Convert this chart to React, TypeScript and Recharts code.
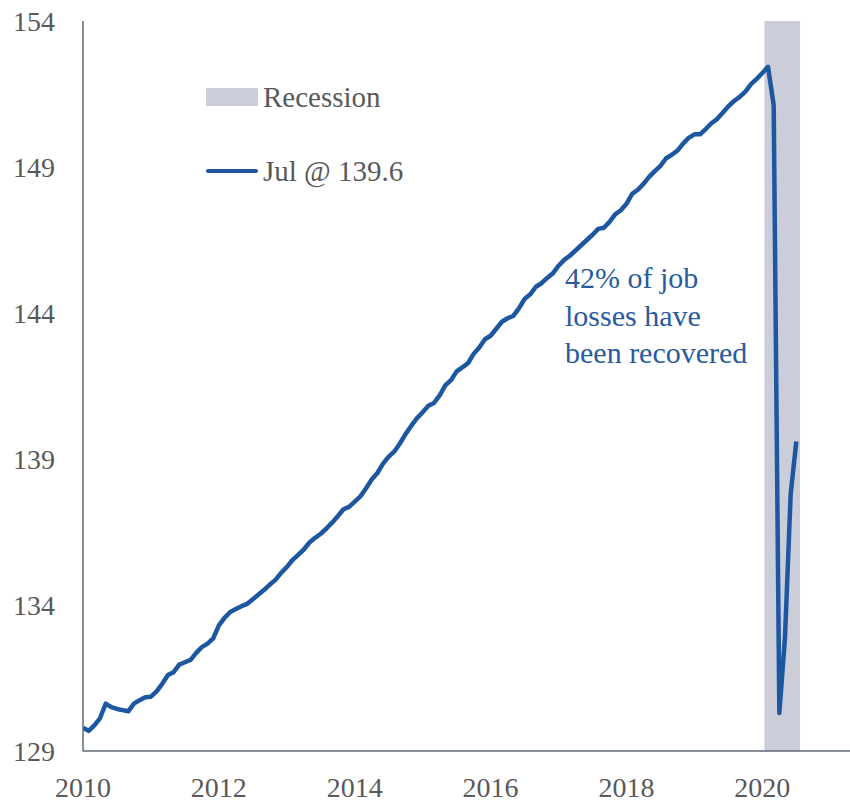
import { LineChart, Line, XAxis, YAxis, ReferenceArea } from 'recharts';

// total nonfarm payrolls, millions, one array per year (Jan..Dec)
const startYear = 2010;
const payrolls2010 = [129.8, 129.69, 129.88, 130.12, 130.62, 130.5, 130.44, 130.4, 130.36, 130.62, 130.74, 130.84];
const payrolls2011 = [130.86, 131.04, 131.3, 131.6, 131.7, 131.96, 132.04, 132.12, 132.36, 132.56, 132.68, 132.86];
const payrolls2012 = [133.3, 133.56, 133.76, 133.86, 133.96, 134.04, 134.2, 134.36, 134.52, 134.7, 134.86, 135.1];
const payrolls2013 = [135.3, 135.54, 135.72, 135.9, 136.14, 136.3, 136.44, 136.62, 136.82, 137.04, 137.28, 137.36];
const payrolls2014 = [137.54, 137.72, 138.0, 138.3, 138.52, 138.84, 139.08, 139.26, 139.54, 139.86, 140.14, 140.4];
const payrolls2015 = [140.6, 140.82, 140.92, 141.18, 141.52, 141.7, 142.0, 142.14, 142.28, 142.6, 142.82, 143.1];
const payrolls2016 = [143.22, 143.46, 143.7, 143.82, 143.9, 144.16, 144.48, 144.64, 144.9, 145.02, 145.2, 145.36];
const payrolls2017 = [145.62, 145.82, 145.96, 146.14, 146.32, 146.5, 146.68, 146.88, 146.92, 147.12, 147.38, 147.52];
const payrolls2018 = [147.74, 148.08, 148.22, 148.42, 148.66, 148.86, 149.04, 149.3, 149.42, 149.56, 149.8, 150.0];
const payrolls2019 = [150.12, 150.12, 150.3, 150.5, 150.64, 150.86, 151.08, 151.26, 151.4, 151.58, 151.84, 152.02];
const payrolls2020 = [152.22, 152.43, 151.12, 130.3, 132.9, 137.8, 139.6];

const payrollsByYear = [
  payrolls2010, payrolls2011, payrolls2012, payrolls2013, payrolls2014, payrolls2015,
  payrolls2016, payrolls2017, payrolls2018, payrolls2019, payrolls2020,
];

const yearTicks = [2010, 2012, 2014, 2016, 2018, 2020];
const valueTicks = [129, 134, 139, 144, 149, 154];
const recessionStart = 2020.03;
const recessionEnd = 2020.555;
const latestLabel = 'Jul @ 139.6';
const annotationLines = ['42% of job', 'losses have', 'been recovered'];

const data = payrollsByYear.flatMap((values, y) =>
  values.map((jobs, m) => ({ date: startYear + y + m / 12, jobs }))
);

const FONT = "'Liberation Serif', 'DejaVu Serif', serif";
const LINE = '#1C57A0';
const BAND = '#CBCED9';
const GREY_TEXT = '#595959';
const AXIS = '#5F6873';

function ChartLegend() {
  return (
    <div style={{ position: 'absolute', left: 206, top: 88, fontFamily: FONT, fontSize: 29, color: GREY_TEXT }}>
      <div style={{ display: 'flex', alignItems: 'center', height: 18 }}>
        <div style={{ width: 52, height: 18, background: BAND, marginRight: 5 }} />
        <span style={{ whiteSpace: 'nowrap' }}>Recession</span>
      </div>
      <div style={{ display: 'flex', alignItems: 'center', height: 18, marginTop: 56 }}>
        <div style={{ width: 52, height: 4, background: LINE, borderRadius: 2, marginRight: 5 }} />
        <span style={{ whiteSpace: 'nowrap' }}>{latestLabel}</span>
      </div>
    </div>
  );
}

export default function App() {
  return (
    <div style={{ position: 'absolute', left: 0, top: 0, width: 850, height: 802, background: '#fff' }}>
      <LineChart width={850} height={802} data={data} margin={{ top: 21, right: 0, bottom: 0, left: 0 }}>
        <ReferenceArea
          x1={recessionStart}
          x2={recessionEnd}
          fill={BAND}
          fillOpacity={1}
          stroke="none"
          ifOverflow="visible"
        />
        <XAxis
          dataKey="date"
          type="number"
          domain={[2010, 2021.29]}
          ticks={yearTicks}
          allowDataOverflow
          height={51}
          axisLine={{ stroke: AXIS, strokeWidth: 1.5 }}
          tickLine={false}
          tickSize={0}
          tickMargin={26}
          tick={{ fill: GREY_TEXT, fontSize: 28, fontFamily: FONT }}
        />
        <YAxis
          domain={[129, 154]}
          ticks={valueTicks}
          allowDataOverflow
          width={83}
          axisLine={{ stroke: AXIS, strokeWidth: 1.5 }}
          tickLine={false}
          tickSize={0}
          tickMargin={28}
          tick={{ fill: GREY_TEXT, fontSize: 28, fontFamily: FONT }}
        />
        <Line
          type="linear"
          dataKey="jobs"
          stroke={LINE}
          strokeWidth={4.5}
          strokeLinejoin="round"
          dot={false}
          activeDot={false}
          isAnimationActive={false}
        />
      </LineChart>
      <ChartLegend />
      <div
        style={{
          position: 'absolute',
          left: 565,
          top: 259,
          fontFamily: FONT,
          fontSize: 30,
          lineHeight: '37.5px',
          color: '#2A5B9E',
          whiteSpace: 'nowrap',
        }}
      >
        {annotationLines.map((line) => (
          <div key={line}>{line}</div>
        ))}
      </div>
    </div>
  );
}
